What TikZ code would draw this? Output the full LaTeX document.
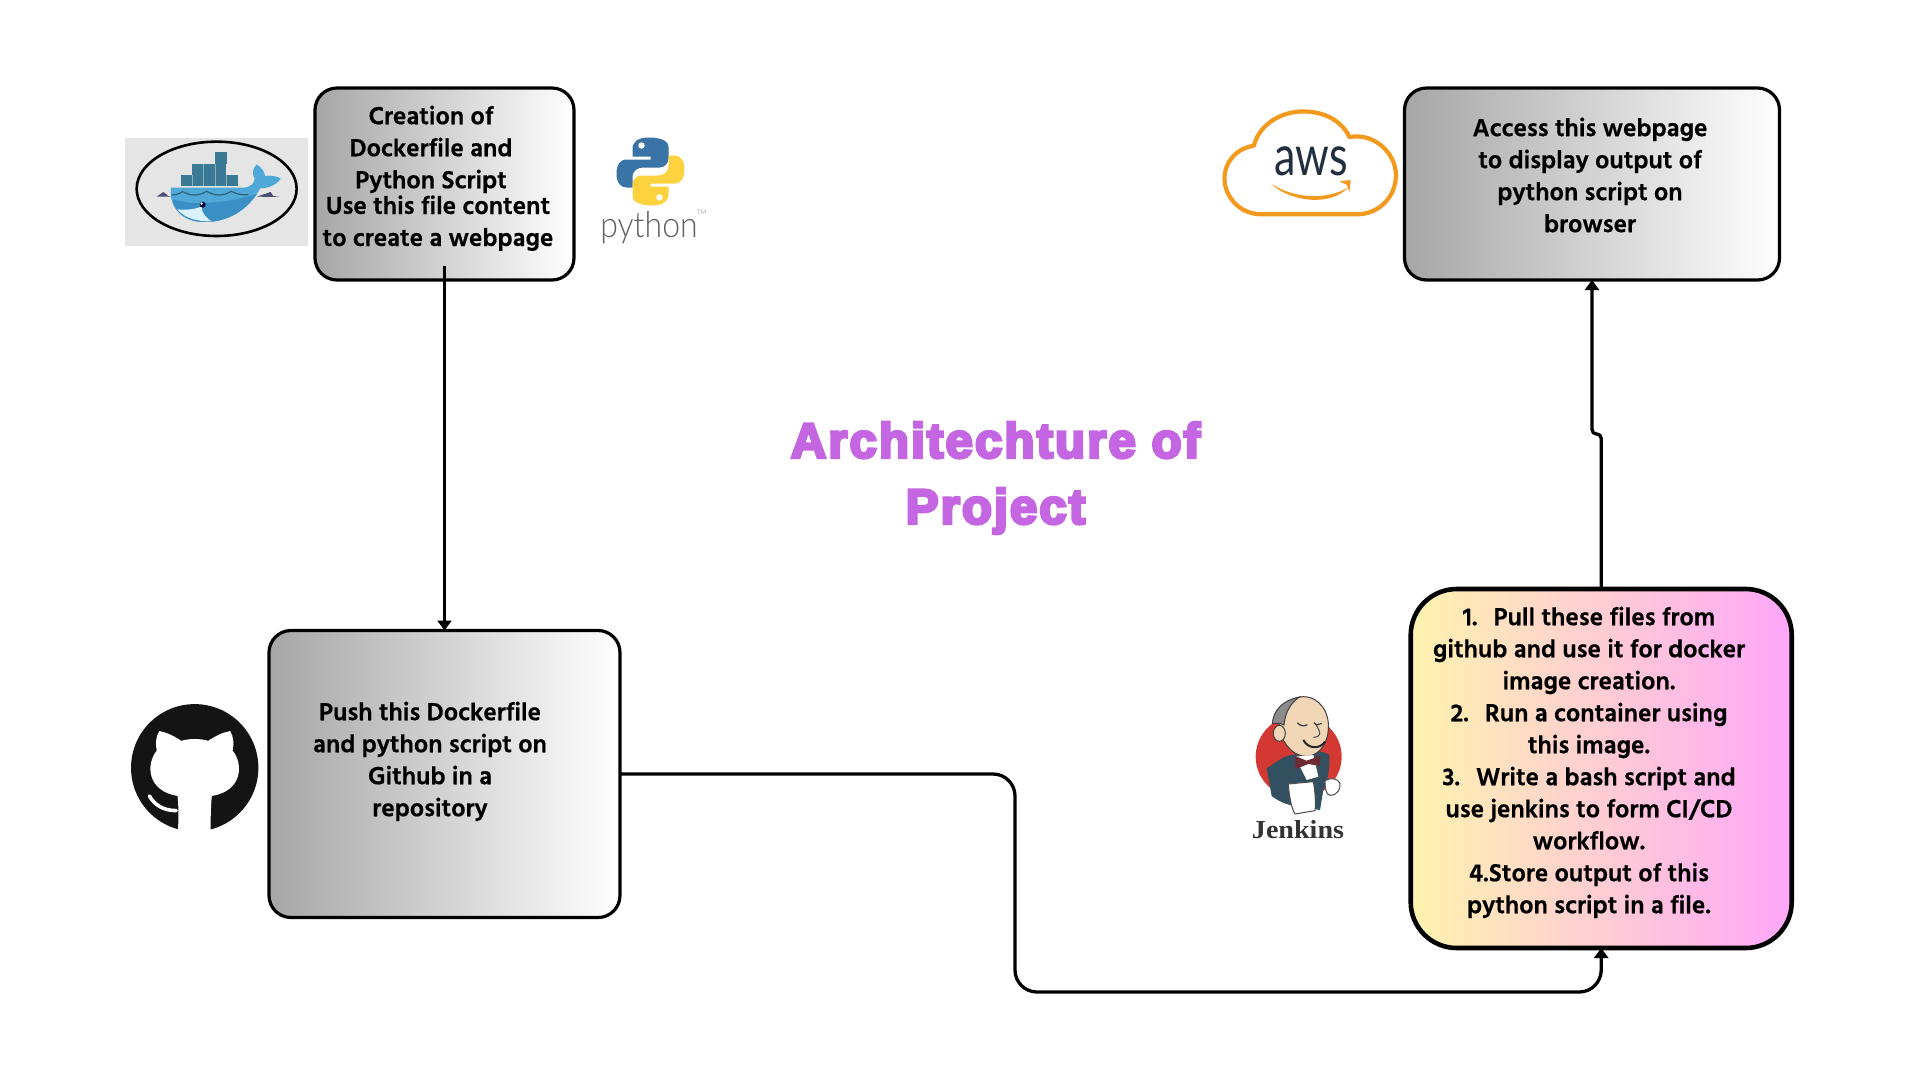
\documentclass[tikz,border=0pt]{standalone}
\usepackage{fontspec}
\usetikzlibrary{arrows.meta,calc}
\newfontfamily\hdfont[BoldFeatures={FakeBold=0.5}]{Hind Madurai}
\newfontfamily\ttlfont[FakeBold=6,LetterSpace=4.5]{Liberation Sans Bold}
\newfontfamily\pyfont{Lato Light}
\newfontfamily\awsfont{Lato}
\newfontfamily\jkfont{Liberation Serif Bold}
\definecolor{ttl}{HTML}{C466E2}
\definecolor{grayL}{HTML}{A6A6A6}
\definecolor{yel}{HTML}{FFF3AE}
\definecolor{pnk}{HTML}{FFA6F9}
\definecolor{orangeaws}{HTML}{F39A1E}
\definecolor{navyaws}{HTML}{232F3E}
\definecolor{pyblue}{HTML}{3A73A6}
\definecolor{pyyel}{HTML}{FDD23F}
\definecolor{dk}{HTML}{3B7A94}
\definecolor{wh}{HTML}{4FA8D8}
\definecolor{wh2}{HTML}{3A8FC4}
\definecolor{jred}{HTML}{D33833}
\definecolor{jskin}{HTML}{F0D6B7}
\definecolor{jcoat}{HTML}{335061}
\definecolor{jtie}{HTML}{6D2B35}
\newcommand{\pysnake}{(-1,-34) .. controls (-13,-34) and (-18,-30) .. (-18,-22) -- (-18,-15) -- (0,-15) -- (0,-12) -- (-24,-12) .. controls (-31,-12) and (-34,-6) .. (-34,2) .. controls (-34,11) and (-30,16) .. (-24,16) -- (-18,16) -- (-18,6) .. controls (-18,-1) and (-13,-4) .. (-7,-4) -- (9,-4) .. controls (14,-4) and (18,-8) .. (18,-13) -- (18,-25) .. controls (18,-30) and (11,-34) .. (-1,-34) -- cycle}
\tikzset{
  box/.style={draw=black,line width=3.2pt,inner sep=0pt,outer sep=0pt,left color=grayL,right color=white,rounded corners=22pt},
  jbox/.style={draw=black,line width=4.6pt,inner sep=0pt,outer sep=0pt,left color=yel,right color=pnk,rounded corners=46pt},
  txt/.style={align=center,inner sep=0pt,font=\hdfont\bfseries\fontsize{25.4}{32}\selectfont,text=black},
  conn/.style={draw=black,line width=3.3pt,-{Triangle[length=10pt,width=14pt]}},
  ttlnode/.style={align=center,inner sep=0pt,text=ttl,font=\ttlfont\fontsize{49}{66}\selectfont},
  zoomed/.style={x=0.3333pt,y=-0.3333pt},
  view/.style={x=1.2245pt,y=-1.2245pt}
}
\begin{document}
\begin{tikzpicture}[x=1pt,y=-1pt]
\useasboundingbox (0,0) rectangle (1920,1080);
\fill[white] (0,0) rectangle (1920,1080);
% boxes
\node[box,minimum width=259pt,minimum height=192pt] (box1) at (444.5,184) {};
\node[box,minimum width=351pt,minimum height=287pt] (box2) at (444.5,774) {};
\node[box,minimum width=375pt,minimum height=192pt] (box4) at (1592,184) {};
\node[jbox,minimum width=381pt,minimum height=359pt] (box3) at (1601.2,768.5) {};
% connectors
\coordinate (c1) at (444.5,266);
\coordinate (turn) at (1015,992);
\coordinate (jog) at (1601.2,434);
\draw[conn] (c1) -- (box2.north);
\draw[conn,rounded corners=22pt] (box2.east) -| (turn) -| (box3.south);
\draw[conn,rounded corners=4.4pt] (box3.north) -- (jog) -| (box4.south);
% texts
\node[txt] (t1a) at (431,149.4) {Creation of\\Dockerfile and\\Python Script};
\node[txt] (t1b) at (438,223.2) {Use this file content\\to create a webpage};
\node[txt] (t2) at (430,761.4) {Push this Dockerfile\\and python script on\\Github in a\\repository};
\node[txt] (t4) at (1590,175) {Access this webpage\\to display output of\\python script on\\browser};
\node[txt] (t3) at (1589,762.4) {1.\hspace{16pt}Pull these files from\\github and use it for docker\\image creation.\\2.\hspace{16pt}Run a container using\\this image.\\3.\hspace{16pt}Write a bash script and\\use jenkins to form CI/CD\\workflow.\\4.Store output of this\\python script in a file.};
\node[ttlnode] (title) at (995.5,478) {Architechture of\\Project};
% docker logo
\begin{scope}[shift={(100,120)},zoomed]
\fill[black!10] (75,53) rectangle (625,378);
\draw[black,line width=2.6pt] (350,206.5) ellipse [x radius=240,y radius=141.5];
\fill[dk] (243,165) rectangle (415,198);
\fill[dk] (277,133) rectangle (378,165);
\fill[dk] (345,97) rectangle (382,133);
\foreach \xx in {277,311,345,380}{\draw[dk!60!white,line width=.6pt] (\xx,165) -- (\xx,198);}
\foreach \xx in {311,345}{\draw[dk!60!white,line width=.6pt] (\xx,133) -- (\xx,165);}
\fill[black!60!blue!40!gray] (170,230) -- (190,216) -- (205,228) -- (215,230) -- cycle;
\fill[black!60!blue!40!gray] (470,230) -- (512,216) -- (520,228) -- (540,231) -- cycle;
\fill[wh] (213,203) -- (430,203) .. controls (455,200) and (462,190) .. (464,176) .. controls (455,160) and (458,145) .. (470,133) .. controls (482,140) and (495,155) .. (495,168) .. controls (510,165) and (530,168) .. (542,176) .. controls (530,195) and (505,205) .. (480,205) .. controls (460,250) and (400,308) .. (310,306) .. controls (250,305) and (205,265) .. (213,203) -- cycle;
\fill[wh2] (218,238) .. controls (280,258) and (380,250) .. (470,222) .. controls (440,265) and (390,308) .. (310,306) .. controls (260,305) and (225,280) .. (218,238) -- cycle;
\fill[black!5!cyan!15!white] (232,268) .. controls (265,272) and (290,265) .. (305,260) .. controls (305,280) and (320,295) .. (335,304) .. controls (290,305) and (255,295) .. (232,268) -- cycle;
\draw[dk!80!black,line width=1.2pt] (215,225) .. controls (235,225) and (240,218) .. (248,215) .. controls (258,218) and (265,226) .. (285,225) .. controls (305,224) and (312,218) .. (320,214) .. controls (330,218) and (340,226) .. (360,225) .. controls (380,224) and (385,218) .. (393,214) .. controls (405,218) and (415,226) .. (445,224);
\fill[black!80!blue] (308,254) circle [x radius=9,y radius=9];
\fill[white] (305,251) circle [x radius=4,y radius=4];
\end{scope}
% python logo
\begin{scope}[shift={(650.5,171.5)}]
\fill[pyblue] \pysnake;
\fill[white] (-9,-26) circle (3.2);
\begin{scope}[rotate=180]
\fill[pyyel] \pysnake;
\fill[white] (-9,-26) circle (3.2);
\end{scope}
\end{scope}
\node[inner sep=0pt,anchor=base,text=black!62,yscale=1.12,font=\pyfont\fontsize{32}{32}\selectfont] (pytext) at (649,237) {python};
\node[inner sep=0pt,anchor=base west,text=black!60,font=\pyfont\fontsize{6}{6}\selectfont] (pytm) at (697,214) {TM};
% aws logo
\begin{scope}[view]
\draw[orangeaws,line width=4.2pt,line join=round] (1030,175) .. controls (1012,175) and (1000,160) .. (1000,146) .. controls (1000,132) and (1010,121) .. (1024,119) .. controls (1028,102) and (1046,91) .. (1064,91) .. controls (1082,91) and (1096,99) .. (1102,112) .. controls (1122,108) and (1140,125) .. (1140,143) .. controls (1140,160) and (1127,175) .. (1108,175) -- cycle;
\fill[orangeaws] (1038,150) .. controls (1058,163) and (1085,163) .. (1101,153) .. controls (1088,168) and (1055,166) .. (1038,150) -- cycle;
\fill[orangeaws] (1094,148) -- (1103,147) -- (1102,157) -- (1100,151) -- cycle;
\end{scope}
\node[inner sep=0pt,text=navyaws,yscale=1.3,font=\awsfont\fontsize{43}{43}\selectfont] (awstext) at (1311,161) {aws};
% github logo
\begin{scope}[view]
\fill[black!92] (159,627) circle (52);
\fill[white] (130,597) .. controls (136,598) and (142,601) .. (148,605) .. controls (155,603) and (163,603) .. (170,605) .. controls (176,601) and (182,598) .. (188,597) .. controls (191,602) and (191,608) .. (190,613) .. controls (199,624) and (198,646) .. (173,650) .. controls (172,660) and (172,670) .. (172,682) -- (145,682) .. controls (146,670) and (146,660) .. (145,650) .. controls (120,646) and (119,624) .. (128,613) .. controls (127,608) and (127,602) .. (130,597) -- cycle;
\draw[white,line width=3.6pt,line cap=round] (122,650) .. controls (126,657) and (133,662) .. (144,662);
\end{scope}
% jenkins logo
\begin{scope}[shift={(1240,690)},zoomed]
\fill[jred] (176,200) circle [x radius=129,y radius=125];
\fill[jcoat] (80,235) .. controls (110,215) and (130,200) .. (150,195) -- (245,185) .. controls (255,190) and (265,190) .. (268,195) .. controls (270,230) and (265,270) .. (250,300) -- (240,360) -- (150,345) .. controls (130,340) and (110,330) .. (95,318) .. controls (90,290) and (85,260) .. (80,235) -- cycle;
\fill[jskin,draw=black!75,line width=1pt] (125,140) .. controls (105,90) and (135,22) .. (190,20) .. controls (240,20) and (270,70) .. (265,120) .. controls (262,160) and (240,190) .. (212,197) .. controls (180,205) and (145,185) .. (125,140) -- cycle;
\fill[black!45,draw=black!75,line width=1pt] (97,100) .. controls (100,60) and (130,30) .. (178,21) .. controls (150,40) and (135,70) .. (132,105) -- (120,100) -- cycle;
\fill[jskin,draw=black!75,line width=1pt] (118,130) circle [x radius=18,y radius=24];
\draw[black!75,line width=1.3pt] (172,98) .. controls (180,108) and (192,110) .. (202,104);
\draw[black!75,line width=1.3pt] (222,98) .. controls (228,106) and (238,106) .. (245,100);
\draw[black!85,line width=2pt] (190,150) .. controls (205,178) and (240,178) .. (255,155);
\draw[black!70,line width=1pt] (225,100) .. controls (245,130) and (245,140) .. (220,142);
\fill[white] (165,200) -- (220,195) -- (235,260) -- (200,270) -- cycle;
\fill[jtie] (165,198) -- (200,212) -- (240,198) -- (240,228) -- (205,222) -- (165,238) -- cycle;
\fill[white,draw=black!70,line width=1pt] (145,282) -- (220,275) .. controls (225,300) and (228,340) .. (225,362) -- (165,372) .. controls (152,350) and (147,310) .. (145,282) -- cycle;
\fill[white,draw=black!70,line width=1pt] (255,272) .. controls (270,262) and (295,265) .. (300,280) .. controls (302,295) and (295,315) .. (270,316) .. controls (258,314) and (255,295) .. (255,272) -- cycle;
\end{scope}
\node[inner sep=0pt,text=black!80,xscale=1.08,font=\jkfont\fontsize{26}{26}\selectfont] (jtext) at (1298,830) {Jenkins};
\end{tikzpicture}
\end{document}
